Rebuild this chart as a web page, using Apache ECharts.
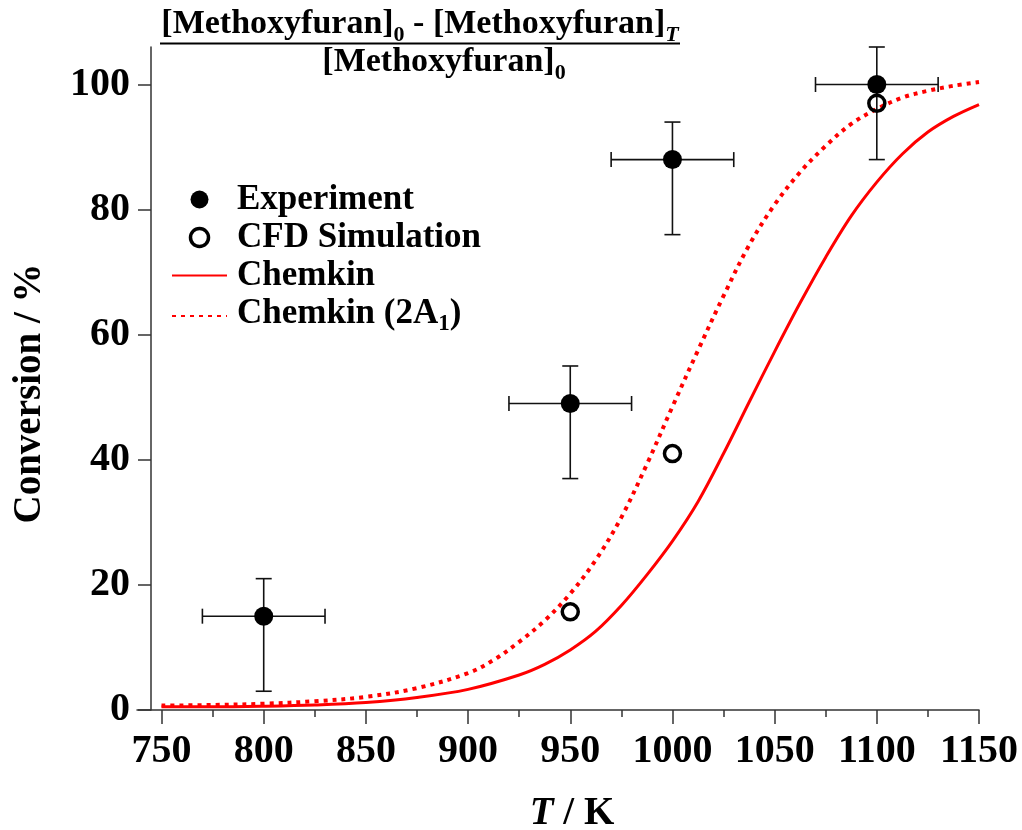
<!DOCTYPE html>
<html>
<head>
<meta charset="utf-8">
<script src="https://cdn.jsdelivr.net/npm/echarts@6/dist/echarts.min.js"></script>
<style>
html,body{margin:0;padding:0;background:#fff;}
#chart{width:1022px;height:830px;}
</style>
</head>
<body>
<div id="chart"></div>
<script>
// ---- data ----
const xTickLabels = [750, 800, 850, 900, 950, 1000, 1050, 1100, 1150];
const xMinorTicks = [775, 825, 875, 925, 975, 1025, 1075, 1125];
const yTickLabels = [0, 20, 40, 60, 80, 100];

const expT = [800, 950, 1000, 1100];
const expConv = [15, 49, 88, 100];
const expTLow = [770, 920, 970, 1070];
const expTHigh = [830, 980, 1030, 1130];
const expConvLow = [3, 37, 76, 88];
const expConvHigh = [21, 55, 94, 106];

const cfdT = [950, 1000, 1100];
const cfdConv = [15.7, 41, 97];

const chemT = [750, 775, 800, 825, 850, 875, 900, 925, 937.5, 950, 962.5, 975, 987.5, 1000, 1012.5, 1025, 1037.5, 1050, 1062.5, 1075, 1087.5, 1100, 1112.5, 1125, 1137.5, 1150];
const chemConv = [0.5, 0.5, 0.6, 0.8, 1.2, 2.0, 3.3, 5.6, 7.3, 9.6, 12.6, 16.7, 21.6, 27.0, 33.3, 41.0, 49.2, 57.3, 65.1, 72.4, 79.0, 84.4, 88.9, 92.4, 94.9, 96.8];

const chem2T = [750, 775, 800, 825, 850, 875, 900, 912.5, 925, 937.5, 950, 962.5, 975, 987.5, 1000, 1012.5, 1025, 1037.5, 1050, 1062.5, 1075, 1087.5, 1100, 1112.5, 1125, 1137.5, 1150];
const chem2Conv = [0.7, 0.8, 1.0, 1.4, 2.1, 3.5, 5.9, 8.0, 10.9, 14.3, 18.6, 24.0, 30.8, 39.3, 48.5, 57.5, 66.2, 74.3, 80.8, 86.0, 90.2, 93.7, 96.1, 97.9, 99.0, 99.8, 100.4];

// ---- chart ----
const FONT = "'Liberation Serif', 'DejaVu Serif', serif";
const AX = '#333';
const RED = '#ff0000';

const expData = expT.map((t, i) => [t, expConv[i]]);
const cfdData = cfdT.map((t, i) => [t, cfdConv[i]]);
const chemData = chemT.map((t, i) => [t, chemConv[i]]);
const chem2Data = chem2T.map((t, i) => [t, chem2Conv[i]]);
const errData = expT.map((t, i) => [t, expConv[i], expTLow[i], expTHigh[i], expConvLow[i], expConvHigh[i]]);

function renderErr(params, api) {
  const x = api.value(0), y = api.value(1);
  const l = api.coord([api.value(2), y]);
  const r = api.coord([api.value(3), y]);
  const b = api.coord([x, api.value(4)]);
  const t = api.coord([x, api.value(5)]);
  const st = { stroke: '#111', lineWidth: 1.6, fill: null };
  const hc = 7.5, vc = 8;
  return {
    type: 'group',
    children: [
      { type: 'line', shape: { x1: l[0], y1: l[1], x2: r[0], y2: r[1] }, style: st },
      { type: 'line', shape: { x1: b[0], y1: b[1], x2: t[0], y2: t[1] }, style: st },
      { type: 'line', shape: { x1: l[0], y1: l[1] - hc, x2: l[0], y2: l[1] + hc }, style: st },
      { type: 'line', shape: { x1: r[0], y1: r[1] - hc, x2: r[0], y2: r[1] + hc }, style: st },
      { type: 'line', shape: { x1: b[0] - vc, y1: b[1], x2: b[0] + vc, y2: b[1] }, style: st },
      { type: 'line', shape: { x1: t[0] - vc, y1: t[1], x2: t[0] + vc, y2: t[1] }, style: st }
    ]
  };
}

const chart = echarts.init(document.getElementById('chart'), null, { renderer: 'canvas' });

const titleRich = {
  m: { fontFamily: FONT, fontWeight: 'bold', fontSize: 34, fill: '#000', verticalAlign: 'top' },
  s: { fontFamily: FONT, fontWeight: 'bold', fontSize: 22, fill: '#000', verticalAlign: 'bottom', padding: [17, 0, 0, 0] },
  t: { fontFamily: FONT, fontWeight: 'bold', fontStyle: 'italic', fontSize: 22, fill: '#000', verticalAlign: 'bottom', padding: [17, 0, 0, 0] }
};

const plainLabel = function (v) { return String(v); };
const NOFILL = 'rgba(0,0,0,0)';

chart.setOption({
  backgroundColor: '#fff',
  animation: false,
  grid: { left: 137, right: 43, top: 47, bottom: 120, containLabel: false, outerBoundsMode: 'none' },
  xAxis: [{
    type: 'value', min: 738, max: 1150, position: 'bottom',
    name: '{i|T}{n| / K}', nameLocation: 'middle', nameGap: 84,
    nameTextStyle: {
      padding: [0, 0, 0, 28],
      rich: {
        i: { fontFamily: FONT, fontWeight: 'bold', fontStyle: 'italic', fontSize: 39, color: '#000' },
        n: { fontFamily: FONT, fontWeight: 'bold', fontSize: 39, color: '#000' }
      }
    },
    axisLine: { show: true, onZero: false, lineStyle: { color: AX, width: 1.5 } },
    axisTick: { show: true, length: 14, customValues: xTickLabels, lineStyle: { color: AX, width: 1.5 } },
    axisLabel: { show: true, customValues: xTickLabels, formatter: plainLabel, margin: 22, fontFamily: FONT, fontWeight: 'bold', fontSize: 40, color: '#000' },
    splitLine: { show: false }
  }, {
    type: 'value', min: 738, max: 1150, position: 'bottom', gridIndex: 0,
    axisLine: { show: false, onZero: false },
    axisTick: { show: true, length: 7, customValues: xMinorTicks, lineStyle: { color: AX, width: 1.5 } },
    axisLabel: { show: false },
    splitLine: { show: false }
  }],
  yAxis: {
    type: 'value', min: 0, max: 106, position: 'left', offset: -14,
    name: 'Conversion / %', nameLocation: 'middle', nameGap: 102, nameRotate: 90,
    nameTextStyle: { fontFamily: FONT, fontWeight: 'bold', fontSize: 39, color: '#000', padding: [0, 30, 0, 0] },
    axisLine: { show: true, onZero: false, lineStyle: { color: AX, width: 1.5 } },
    axisTick: { show: true, length: 13, customValues: yTickLabels, lineStyle: { color: AX, width: 1.5 } },
    axisLabel: { show: true, customValues: yTickLabels, formatter: plainLabel, margin: 21, fontFamily: FONT, fontWeight: 'bold', fontSize: 40, color: '#000' },
    splitLine: { show: false }
  },
  legend: {
    orient: 'vertical', left: 166, top: 177, itemWidth: 55, itemHeight: 18, itemGap: 3,
    data: [
      { name: 'Experiment', icon: 'circle' },
      { name: 'CFD Simulation', icon: 'circle', itemStyle: { color: NOFILL, borderColor: '#000', borderWidth: 3.5 } },
      { name: 'Chemkin' },
      { name: 'Chemkin (2A1)' }
    ],
    formatter: function (name) {
      if (name === 'Chemkin (2A1)') return '{n|Chemkin (2A}{s|1}{n|)}';
      return '{n|' + name + '}';
    },
    textStyle: {
      fontFamily: FONT, fontWeight: 'bold', fontSize: 35, color: '#000', padding: [0, 0, 0, 5],
      rich: {
        n: { fontFamily: FONT, fontWeight: 'bold', fontSize: 35, color: '#000', verticalAlign: 'top' },
        s: { fontFamily: FONT, fontWeight: 'bold', fontSize: 23, color: '#000', verticalAlign: 'bottom', padding: [17, 0, 0, 0] }
      }
    }
  },
  graphic: [
    {
      type: 'text', x: 420, y: 7, z: 100,
      style: { text: '{m|[Methoxyfuran]}{s|0}{m| - [Methoxyfuran]}{t|T}', rich: titleRich, align: 'center', verticalAlign: 'top', fill: '#000' }
    },
    { type: 'rect', z: 100, shape: { x: 160, y: 42.5, width: 520, height: 2 }, style: { fill: '#000' } },
    {
      type: 'text', x: 444, y: 45, z: 100,
      style: { text: '{m|[Methoxyfuran]}{s|0}', rich: titleRich, align: 'center', verticalAlign: 'top', fill: '#000' }
    }
  ],
  series: [
    {
      name: 'Chemkin', type: 'line', data: chemData, smooth: 0.35, showSymbol: false, symbol: 'none',
      lineStyle: { color: RED, width: 3, type: 'solid' },
      itemStyle: { color: NOFILL, borderColor: NOFILL, borderWidth: 0 }, z: 2
    },
    {
      name: 'Chemkin (2A1)', type: 'line', data: chem2Data, smooth: 0.35, showSymbol: false, symbol: 'none',
      lineStyle: { color: RED, width: 4, type: [4, 5] },
      itemStyle: { color: NOFILL, borderColor: NOFILL, borderWidth: 0 }, z: 2
    },
    {
      name: 'errorbars', type: 'custom', renderItem: renderErr, data: errData, z: 3,
      encode: { x: [0, 2, 3], y: [1, 4, 5] }
    },
    {
      name: 'CFD Simulation', type: 'scatter', data: cfdData, symbol: 'circle', symbolSize: 16,
      itemStyle: { color: NOFILL, borderColor: '#000', borderWidth: 3.5, opacity: 1 }, z: 4
    },
    {
      name: 'Experiment', type: 'scatter', data: expData, symbol: 'circle', symbolSize: 19,
      itemStyle: { color: '#000', opacity: 1 }, z: 5
    }
  ]
});
</script>
</body>
</html>
